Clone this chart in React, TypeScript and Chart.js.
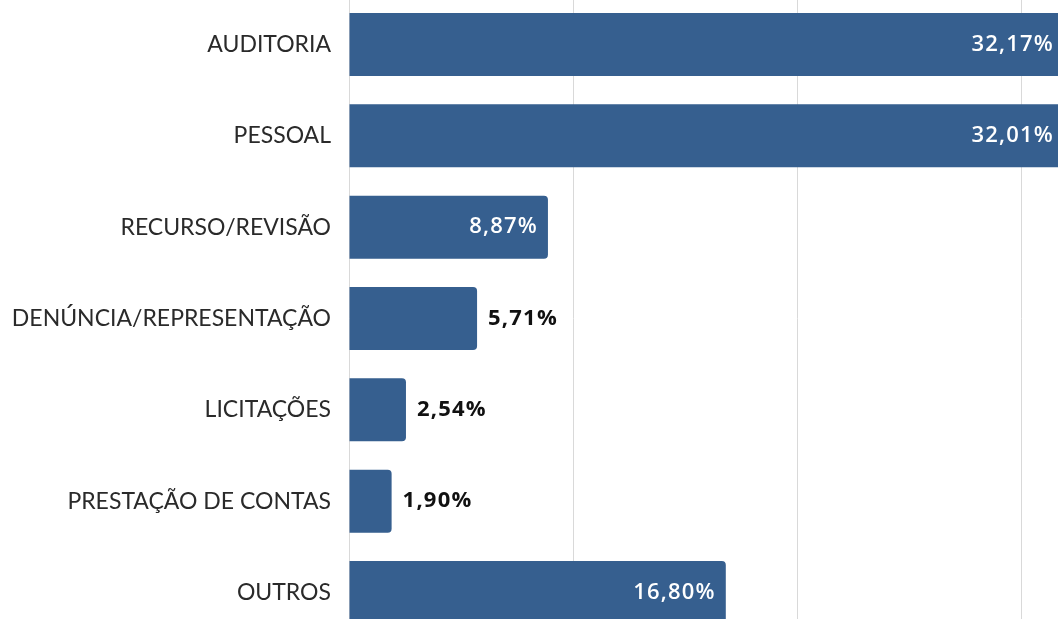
import React, { useEffect, useRef } from "react";
import { Chart, registerables } from "chart.js";

Chart.register(...registerables);

const categories = [
  "AUDITORIA",
  "PESSOAL",
  "RECURSO/REVISÃO",
  "DENÚNCIA/REPRESENTAÇÃO",
  "LICITAÇÕES",
  "PRESTAÇÃO DE CONTAS",
  "OUTROS",
];
const values = [32.17, 32.01, 8.87, 5.71, 2.54, 1.9, 16.8];
const valueLabels = ["32,17%", "32,01%", "8,87%", "5,71%", "2,54%", "1,90%", "16,80%"];

const BAR_COLOR = "#365f8f";
const VISIBLE_WIDTH = 1058;

const labelPlugin = {
  id: "valueLabels",
  afterDatasetsDraw(chart: any) {
    const ctx = chart.ctx;
    const meta = chart.getDatasetMeta(0);
    ctx.save();
    try {
      (ctx as any).letterSpacing = "1.2px";
    } catch (e) {}
    ctx.textBaseline = "middle";
    meta.data.forEach((bar: any, i: number) => {
      const v = values[i];
      const text = valueLabels[i];
      if (v >= 8) {
        ctx.font = "600 22px 'Open Sans'";
        ctx.fillStyle = "#ffffff";
        ctx.textAlign = "right";
        const x = Math.min(bar.x - 10, VISIBLE_WIDTH - 4);
        ctx.fillText(text, x, bar.y);
      } else {
        ctx.font = "700 22px 'Open Sans'";
        ctx.fillStyle = "#111111";
        ctx.textAlign = "left";
        ctx.fillText(text, bar.x + 11, bar.y);
      }
    });
    ctx.restore();
  },
};

export default function App() {
  const ref = useRef<HTMLCanvasElement | null>(null);
  useEffect(() => {
    if (!ref.current) return;
    const chart = new Chart(ref.current, {
      type: "bar",
      data: {
        labels: categories,
        datasets: [
          {
            data: values,
            backgroundColor: BAR_COLOR,
            borderRadius: 4,
            borderSkipped: "start",
            categoryPercentage: 0.69,
            barPercentage: 1,
            clip: false as any,
          },
        ],
      },
      options: {
        indexAxis: "y",
        animation: false,
        responsive: true,
        maintainAspectRatio: false,
        layout: { padding: { top: 14, bottom: 6, left: 0, right: 6 } },
        plugins: {
          legend: { display: false },
          tooltip: { enabled: false },
        },
        scales: {
          x: {
            min: 0,
            max: 35,
            ticks: { display: false, stepSize: 10 },
            grid: { color: "#d9d9d9", lineWidth: 1, drawTicks: false },
            border: { display: false },
            afterFit: (s: any) => {
              s.height = 0;
            },
          },
          y: {
            grid: { display: false, drawTicks: false },
            border: { display: false },
            ticks: {
              color: "#2a2a2a",
              padding: 18,
              font: { family: "Lato", size: 23, weight: "normal" },
            },
            afterFit: (s: any) => {
              s.width = 349;
            },
          },
        },
      },
      plugins: [labelPlugin],
    });
    return () => chart.destroy();
  }, []);

  return (
    <div
      style={{
        position: "fixed",
        left: 0,
        top: 0,
        width: 1058,
        height: 619,
        overflow: "hidden",
        background: "#fff",
      }}
    >
      <div style={{ position: "absolute", left: 0, top: -33, width: 1140, height: 703 }}>
        <canvas ref={ref} />
      </div>
    </div>
  );
}
